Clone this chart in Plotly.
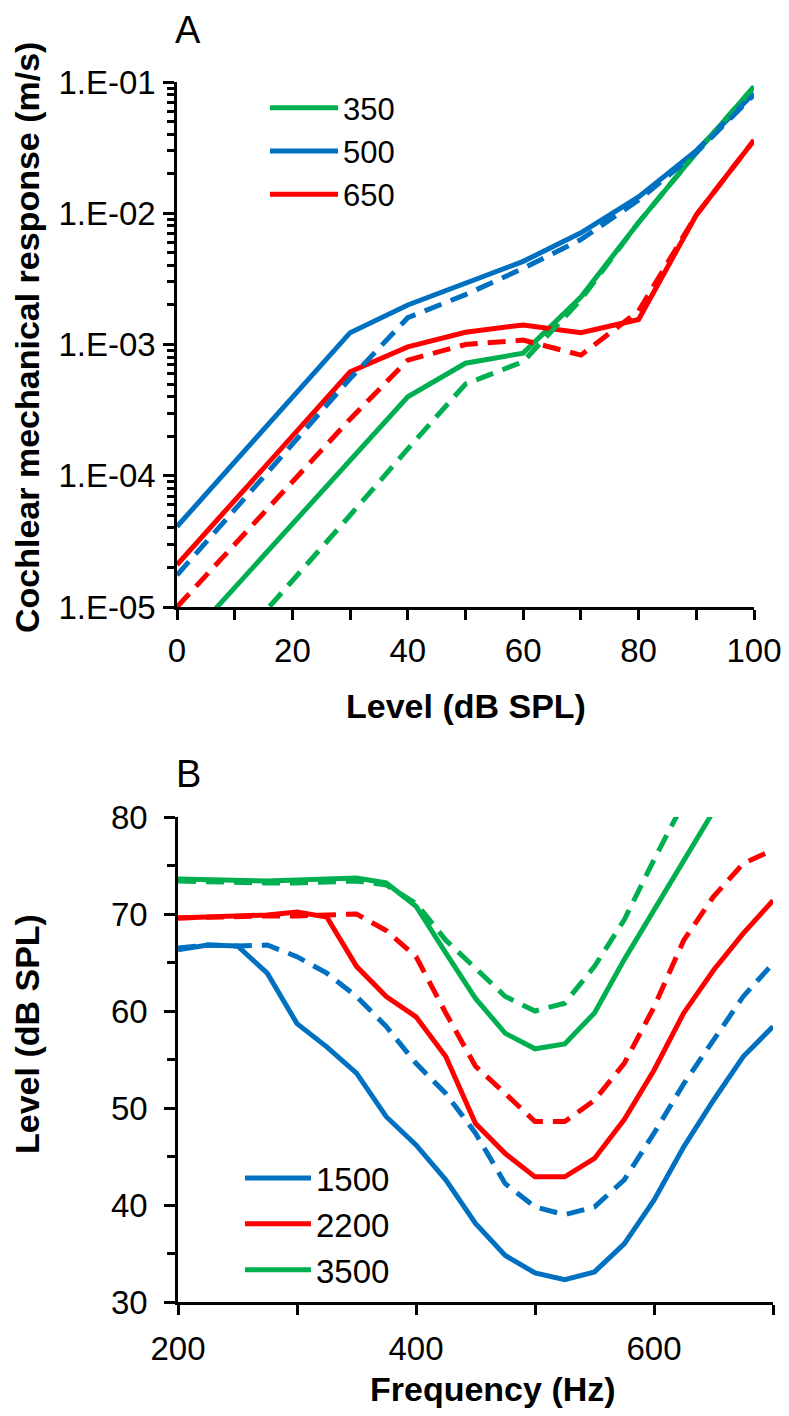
import plotly.graph_objects as go

# ---------------- Panel A data ----------------
level = [0, 10, 20, 30, 40, 50, 60, 70, 80, 90, 100]
a_350_solid = [4.6e-6, 1.4e-5, 4.3e-5, 1.3e-4, 4.0e-4, 7.2e-4, 8.6e-4, 2.3e-3, 8.5e-3, 2.9e-2, 9.2e-2]
a_350_dash = [1.6e-6, 5.0e-6, 1.6e-5, 5.0e-5, 1.6e-4, 5.0e-4, 7.4e-4, 2.2e-3, 8.5e-3, 2.9e-2, 9.2e-2]
a_500_solid = [4.1e-5, 1.28e-4, 3.9e-4, 1.23e-3, 2.0e-3, 2.9e-3, 4.3e-3, 7.1e-3, 1.33e-2, 3.0e-2, 8.2e-2]
a_500_dash = [1.75e-5, 5.5e-5, 1.7e-4, 5.5e-4, 1.6e-3, 2.4e-3, 3.8e-3, 6.3e-3, 1.26e-2, 2.9e-2, 8.0e-2]
a_650_solid = [2.1e-5, 6.5e-5, 2.0e-4, 6.2e-4, 9.6e-4, 1.24e-3, 1.41e-3, 1.23e-3, 1.55e-3, 9.7e-3, 3.6e-2]
a_650_dash = [1.0e-5, 3.0e-5, 8.8e-5, 2.7e-4, 7.6e-4, 1.0e-3, 1.08e-3, 8.3e-4, 1.8e-3, 9.7e-3, 3.6e-2]
a_ticks = [1e-5, 1e-4, 1e-3, 1e-2, 1e-1]
a_ticktext = ["1.E-05", "1.E-04", "1.E-03", "1.E-02", "1.E-01"]
a_xticks = [0, 20, 40, 60, 80, 100]

# ---------------- Panel B data ----------------
freq = [200, 225, 250, 275, 300, 325, 350, 375, 400, 425, 450, 475, 500,
        525, 550, 575, 600, 625, 650, 675, 700]
b_1500_solid = [66.3, 66.8, 66.7, 63.9, 58.7, 56.3, 53.6, 49.1, 46.2, 42.6, 38.1,
                34.8, 33.0, 32.3, 33.1, 36.0, 40.5, 46.0, 50.8, 55.3, 58.4]
b_1500_dash = [66.5, 66.8, 66.7, 66.8, 65.6, 63.9, 61.5, 58.4, 54.6, 51.5, 47.4,
               42.2, 39.8, 39.0, 39.8, 42.6, 47.4, 52.5, 57.0, 61.5, 64.9]
b_2200_solid = [69.6, 69.7, 69.8, 69.9, 70.2, 69.7, 64.6, 61.5, 59.4, 55.3, 48.4,
                45.3, 42.9, 42.9, 44.8, 48.8, 53.9, 59.8, 64.2, 68.0, 71.4]
b_2200_dash = [69.6, 69.7, 69.7, 69.8, 69.8, 69.9, 70.0, 68.3, 65.6, 59.8, 54.3,
               51.5, 48.6, 48.6, 50.8, 54.6, 60.4, 67.3, 71.8, 75.2, 76.6]
b_3500_solid = [73.6, 73.5, 73.4, 73.4, 73.5, 73.6, 73.7, 73.2, 70.8, 66.0, 61.3,
                57.7, 56.1, 56.6, 59.8, 65.3, 70.4, 75.7, 80.6, None, None]
b_3500_dash = [73.4, 73.3, 73.2, 73.2, 73.2, 73.3, 73.4, 73.0, 71.1, 67.3, 64.4,
               61.5, 60.0, 60.8, 64.6, 69.4, 75.6, 81.5, None, None, None]
b_xticks = [200, 400, 600]
b_yticks = [30, 40, 50, 60, 70, 80]

GREEN = "#00B050"
BLUE = "#0070C0"
RED = "#FF0000"
FONT = "Liberation Sans, Arial, Helvetica, sans-serif"
LW = 5
DASH = "18px,10px"

# The page body adds an 8px margin on every side; size the figure so the page never overflows.
OFF = 8
W, H = 789 - 2 * OFF, 1416 - 2 * OFF


def px_x(p):
    return (p - OFF) / W


def px_y(p):
    return 1 - (p - OFF) / H


fig = go.Figure()

# Panel A traces: solids first, dashed on top
for name, ys, col in [("350", a_350_solid, GREEN), ("500", a_500_solid, BLUE), ("650", a_650_solid, RED)]:
    fig.add_trace(go.Scatter(x=level, y=ys, mode="lines", name=name,
                             line=dict(color=col, width=LW), xaxis="x", yaxis="y",
                             legend="legend", showlegend=True))
for ys, col in [(a_350_dash, GREEN), (a_500_dash, BLUE), (a_650_dash, RED)]:
    fig.add_trace(go.Scatter(x=level, y=ys, mode="lines", showlegend=False,
                             line=dict(color=col, width=LW, dash=DASH), xaxis="x", yaxis="y"))

# Panel B traces
for name, ys, col in [("1500", b_1500_solid, BLUE), ("2200", b_2200_solid, RED), ("3500", b_3500_solid, GREEN)]:
    fig.add_trace(go.Scatter(x=freq, y=ys, mode="lines", name=name,
                             line=dict(color=col, width=LW), xaxis="x2", yaxis="y2",
                             legend="legend2", showlegend=True, connectgaps=False))
for ys, col in [(b_1500_dash, BLUE), (b_2200_dash, RED), (b_3500_dash, GREEN)]:
    fig.add_trace(go.Scatter(x=freq, y=ys, mode="lines", showlegend=False,
                             line=dict(color=col, width=LW, dash=DASH), xaxis="x2", yaxis="y2"))

tickfont = dict(family=FONT, size=33, color="black")
AXW = 2.5

a_minor = [m * 10 ** e for e in range(-5, -1) for m in range(2, 10)]

xdomA = [px_x(177), px_x(754)]
ydomA = [px_y(607), px_y(82)]
xdomB = [px_x(178), px_x(773)]
ydomB = [px_y(1302), px_y(817)]

common = dict(showgrid=False, zeroline=False, linecolor="black", linewidth=AXW,
              tickcolor="black", tickwidth=AXW, automargin=False)

fig.update_layout(
    xaxis=dict(domain=xdomA, anchor="y", range=[0, 100], tickmode="array",
               tickvals=a_xticks, ticks="outside", ticklen=10, showline=True,
               tickfont=tickfont, ticklabelstandoff=3, ticklabeloverflow="allow",
               minor=dict(dtick=10, ticks="outside", ticklen=10, tickwidth=AXW, tickcolor="black"),
               **common),
    yaxis=dict(domain=ydomA, anchor="x", type="log", range=[-5, -1], tickmode="array",
               tickvals=a_ticks, ticktext=a_ticktext, ticks="outside", ticklen=11,
               showline=True, tickfont=tickfont, ticklabelstandoff=1,
               minor=dict(tickmode="array", tickvals=a_minor, ticks="outside", ticklen=7,
                          tickwidth=AXW, tickcolor="black"),
               **common),
    xaxis3=dict(overlaying="x", anchor="y3", domain=xdomA, range=[0, 100], tickmode="array",
                tickvals=a_xticks, ticks="inside", ticklen=10, showticklabels=False,
                showline=False,
                minor=dict(dtick=10, ticks="inside", ticklen=10, tickwidth=AXW, tickcolor="black"),
                **common),
    yaxis3=dict(overlaying="y", anchor="x3", domain=ydomA, type="log", range=[-5, -1], tickmode="array",
                tickvals=a_ticks, ticks="inside", ticklen=11, showticklabels=False,
                showline=False,
                minor=dict(tickmode="array", tickvals=a_minor, ticks="inside", ticklen=7,
                           tickwidth=AXW, tickcolor="black"),
                **common),
    xaxis2=dict(domain=xdomB, anchor="y2", range=[200, 700], tickmode="array",
                tickvals=b_xticks, ticks="outside", ticklen=10, showline=True,
                tickfont=tickfont, ticklabelstandoff=6,
                minor=dict(dtick=100, ticks="outside", ticklen=10, tickwidth=AXW, tickcolor="black"),
                **common),
    yaxis2=dict(domain=ydomB, anchor="x2", range=[30, 80], tickmode="array",
                tickvals=b_yticks, ticks="outside", ticklen=11, showline=True,
                tickfont=tickfont, ticklabelstandoff=10,
                minor=dict(dtick=5, ticks="outside", ticklen=8, tickwidth=AXW, tickcolor="black"),
                **common),
    xaxis4=dict(overlaying="x2", anchor="y4", domain=xdomB, range=[200, 700], tickmode="array",
                tickvals=b_xticks, ticks="inside", ticklen=10, showticklabels=False,
                showline=False,
                minor=dict(dtick=100, ticks="inside", ticklen=10, tickwidth=AXW, tickcolor="black"),
                **common),
    yaxis4=dict(overlaying="y2", anchor="x4", domain=ydomB, range=[30, 80], tickmode="array",
                tickvals=b_yticks, ticks="inside", ticklen=11, showticklabels=False,
                showline=False,
                minor=dict(dtick=5, ticks="inside", ticklen=8, tickwidth=AXW, tickcolor="black"),
                **common),
    legend=dict(x=px_x(265), y=px_y(81), xanchor="left", yanchor="top",
                font=dict(family=FONT, size=31, color="black"), bgcolor="rgba(0,0,0,0)",
                borderwidth=0, itemwidth=68, tracegroupgap=0),
    legend2=dict(x=px_x(240), y=px_y(1150), xanchor="left", yanchor="top",
                 font=dict(family=FONT, size=33, color="black"), bgcolor="rgba(0,0,0,0)",
                 borderwidth=0, itemwidth=66, tracegroupgap=0),
    width=W, height=H,
    margin=dict(l=0, r=0, t=0, b=0, pad=0, autoexpand=False),
    plot_bgcolor="white", paper_bgcolor="white",
    font=dict(family=FONT, color="black"),
)

ann = []
bold = dict(family=FONT, size=34, color="black")


def note(text, xp, yp, font, angle=0):
    return dict(text=text, x=px_x(xp), y=px_y(yp), xref="paper", yref="paper",
                xanchor="center", yanchor="middle", showarrow=False,
                textangle=angle, font=font)


ann.append(note("A", 188, 30, dict(family=FONT, size=38, color="black")))
ann.append(note("B", 188, 774, dict(family=FONT, size=38, color="black")))
ann.append(note("<b>Cochlear mechanical response (m/s)</b>", 27, 338, bold, -90))
ann.append(note("<b>Level (dB SPL)</b>", 466, 706, bold))
ann.append(note("<b>Level (dB SPL)</b>", 27, 1034, bold, -90))
ann.append(note("<b>Frequency (Hz)</b>", 493, 1389, bold))
fig.update_layout(annotations=ann)

fig.write_html("out.html")
